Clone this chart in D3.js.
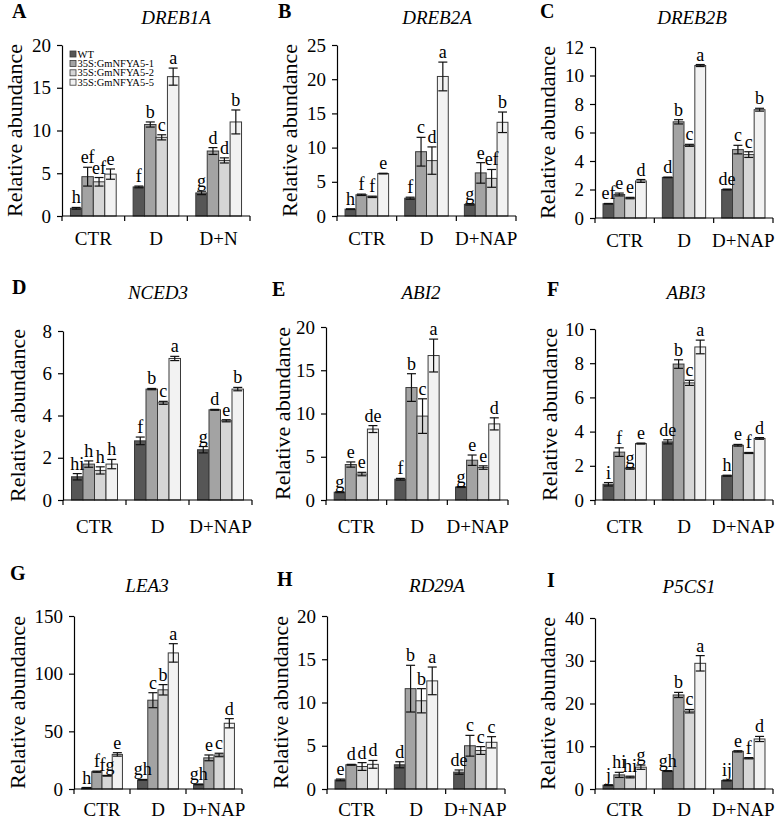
<!DOCTYPE html>
<meta charset="utf-8">
<style>
  body { margin: 0; background: #fff; }
  svg text { font-family: "Liberation Serif", "Times New Roman", serif; fill: #000; }
  .axis path, .axis line { fill: none; stroke: #000; stroke-width: 1.2px; }
  .axis text { font-size: 19px; }
  .xaxis path { display: none; }
  .bar { stroke: #3a3a3a; stroke-width: 1px; }
  .err line { stroke: #111; stroke-width: 1.2px; }
  .sig { font-size: 18px; text-anchor: middle; }
  .title { font-size: 19px; font-style: italic; text-anchor: middle; }
  .letter { font-size: 20px; font-weight: bold; }
  .ylab { font-size: 22px; text-anchor: middle; }
  .legend text { font-size: 10.5px; }
</style>
<body>
<div id="graph-container"></div>
<script src="https://d3js.org/d3.v7.min.js"></script>
<script>
  var genes = ["DREB1A", "DREB2A", "DREB2B", "NCED3", "ABI2", "ABI3", "LEA3", "RD29A", "P5CS1"];
  var panelLetters = ["A", "B", "C", "D", "E", "F", "G", "H", "I"];
  var groups = ["CTR", "D", "D+NAP"];
  var groupsA = ["CTR", "D", "D+N"];  // panel A label is cut in the figure
  var lines = ["WT", "35S:GmNFYA5-1", "35S:GmNFYA5-2", "35S:GmNFYA5-5"];
  var yMax = [20, 25, 12, 8, 20, 10, 150, 20, 40];
  var yStep = [5, 5, 2, 2, 5, 2, 50, 5, 10];

  // mean per [group][line]
  var meanValues = [
    [[0.9, 4.6, 4.0, 4.9], [3.4, 10.7, 9.2, 16.3], [2.7, 7.6, 6.5, 11.0]],
    [[1.0, 3.1, 2.8, 6.2], [2.6, 9.4, 8.1, 20.4], [1.7, 6.3, 5.5, 13.7]],
    [[1.0, 1.65, 1.4, 2.6], [2.85, 6.75, 5.1, 10.7], [2.0, 4.8, 4.45, 7.6]],
    [[1.1, 1.7, 1.4, 1.7], [2.8, 5.25, 4.6, 6.7], [2.38, 4.27, 3.75, 5.25]],
    [[0.9, 4.1, 3.0, 8.2], [2.4, 13.0, 9.7, 16.7], [1.5, 4.6, 3.75, 8.8]],
    [[0.92, 2.8, 1.85, 3.3], [3.4, 7.95, 6.85, 8.95], [1.42, 3.2, 2.75, 3.6]],
    [[1, 15, 11.5, 30], [8, 77, 86, 118], [4, 27, 29.5, 57]],
    [[1.05, 2.8, 2.6, 2.85], [2.8, 11.6, 10.2, 12.5], [1.95, 5.0, 4.45, 5.4]],
    [[0.9, 3.3, 2.8, 5.1], [4.2, 22.0, 18.2, 29.4], [2.0, 8.8, 7.2, 11.7]]
  ];
  var errValues = [
    [[0.1, 1.1, 0.5, 0.6], [0.1, 0.3, 0.3, 1.0], [0.2, 0.4, 0.3, 1.4]],
    [[0.05, 0.1, 0.1, 0.05], [0.15, 2.1, 2.0, 2.1], [0.1, 1.5, 1.3, 1.5]],
    [[0.02, 0.1, 0.05, 0.1], [0.02, 0.15, 0.07, 0.07], [0.03, 0.3, 0.2, 0.1]],
    [[0.15, 0.15, 0.17, 0.22], [0.18, 0.03, 0.07, 0.1], [0.15, 0.02, 0.05, 0.08]],
    [[0.05, 0.3, 0.2, 0.4], [0.1, 1.6, 2.0, 1.9], [0.05, 0.6, 0.2, 0.7]],
    [[0.1, 0.25, 0.05, 0.03], [0.12, 0.25, 0.15, 0.4], [0.03, 0.05, 0.03, 0.05]],
    [[0.3, 0.5, 0.3, 1.5], [0.3, 6.5, 4.5, 8], [0.3, 2.5, 1.5, 4]],
    [[0.1, 0.05, 0.45, 0.45], [0.35, 2.7, 1.4, 1.6], [0.25, 1.2, 0.45, 0.65]],
    [[0.1, 0.6, 0.2, 0.5], [0.1, 0.6, 0.4, 1.8], [0.1, 0.15, 0.15, 0.6]]
  ];
  var sigLetters = [
    [["h", "ef", "ef", "e"], ["f", "b", "c", "a"], ["g", "d", "d", "b"]],
    [["h", "f", "f", "e"], ["f", "c", "d", "a"], ["g", "e", "ef", "b"]],
    [["ef", "e", "e", "d"], ["d", "b", "c", "a"], ["de", "c", "c", "b"]],
    [["hi", "h", "h", "h"], ["f", "b", "c", "a"], ["g", "d", "e", "b"]],
    [["g", "e", "e", "de"], ["f", "b", "c", "a"], ["g", "e", "e", "d"]],
    [["i", "f", "g", "e"], ["de", "b", "c", "a"], ["h", "e", "f", "d"]],
    [["h", "f", "fg", "e"], ["gh", "c", "b", "a"], ["gh", "e", "c", "d"]],
    [["e", "d", "d", "d"], ["d", "b", "b", "a"], ["de", "c", "c", "c"]],
    [["j", "hi", "hi", "g"], ["gh", "b", "c", "a"], ["ij", "e", "f", "d"]]
  ];

  var colors = ["#565656", "#a3a3a3", "#d6d6d6", "#f2f2f2"];

  // axisX, axisEnd, yTop, yZero, titleX, titleY, letterX, letterY, catBaseline offset, ylabel x
  var layout = [
    [62, 250, 45, 216, 176, 24, 12, 18, 29, 22],
    [337, 516, 45, 216, 437, 24, 278, 18, 29, 297],
    [595, 773, 47, 218, 692, 24, 540, 18, 29, 555],
    [63, 252, 331, 500, 158, 299, 12, 294, 33, 25],
    [326, 508, 327, 500, 421, 299, 272, 296, 33, 290],
    [595, 773, 329, 500, 686, 299, 547, 296, 33, 557],
    [74, 242, 616, 789, 147, 592, 10, 580, 27, 25],
    [327, 505, 616, 789, 437, 592, 277, 586, 27, 288],
    [595, 773, 618, 789, 689, 593, 547, 587, 27, 555]
  ];

  var svg = d3.select("#graph-container").append("svg")
      .attr("width", 778)
      .attr("height", 820);

  genes.forEach(function(gene, k) {
    var L = layout[k];
    var cats = k == 0 ? groupsA : groups;
    var x0 = d3.scaleBand().domain(d3.range(3)).range([L[0], L[1]]).padding(0);
    var x1 = d3.scaleBand().domain(d3.range(4)).range([0, x0.bandwidth()])
        .paddingInner(0).paddingOuter(0.74);
    var y = d3.scaleLinear().domain([0, yMax[k]]).range([L[3], L[2]]);

    var g = svg.append("g").attr("class", "panel");

    // bars
    var grp = g.selectAll(".grp")
        .data(meanValues[k])
        .enter().append("g")
        .attr("class", "grp")
        .attr("transform", function(d, i) { return "translate(" + x0(i) + ",0)"; });

    grp.selectAll("rect")
        .data(function(d) { return d; })
        .enter().append("rect")
        .attr("class", "bar")
        .attr("x", function(d, j) { return x1(j); })
        .attr("width", x1.bandwidth())
        .attr("y", function(d) { return y(d); })
        .attr("height", function(d) { return y(0) - y(d); })
        .style("fill", function(d, j) { return colors[j]; });

    // error bars + significance letters
    var cap = 4.5;
    grp.each(function(d, i) {
      var eb = d3.select(this).selectAll(".err")
          .data(d)
          .enter().append("g")
          .attr("class", "err")
          .attr("transform", function(v, j) { return "translate(" + (x1(j) + x1.bandwidth() / 2) + ",0)"; });
      eb.append("line")
          .attr("y1", function(v, j) { return y(v - errValues[k][i][j]); })
          .attr("y2", function(v, j) { return y(v + errValues[k][i][j]); });
      eb.append("line").attr("x1", -cap).attr("x2", cap)
          .attr("y1", function(v, j) { return y(v + errValues[k][i][j]); })
          .attr("y2", function(v, j) { return y(v + errValues[k][i][j]); });
      eb.append("line").attr("x1", -cap).attr("x2", cap)
          .attr("y1", function(v, j) { return y(v - errValues[k][i][j]); })
          .attr("y2", function(v, j) { return y(v - errValues[k][i][j]); });
      eb.append("text")
          .attr("class", "sig")
          .attr("y", function(v, j) { return y(v + errValues[k][i][j]) - 4; })
          .text(function(v, j) { return sigLetters[k][i][j]; });
    });

    // y axis
    g.append("g")
        .attr("class", "axis")
        .attr("transform", "translate(" + L[0] + ",0)")
        .call(d3.axisLeft(y)
            .tickValues(d3.range(0, yMax[k] + 1e-9, yStep[k]))
            .tickSize(5).tickSizeOuter(0).tickPadding(6));

    // x axis: line and ticks at group boundaries
    g.append("g")
        .attr("class", "axis")
        .attr("transform", "translate(0," + L[3] + ")")
        .call(function(s) {
          s.append("line").attr("x1", L[0]).attr("x2", L[1]);
          s.selectAll(".btick")
              .data([0, 1, 2, 3])
              .enter().append("line")
              .attr("class", "btick")
              .attr("x1", function(b) { return b < 3 ? x0(b) : L[1]; })
              .attr("x2", function(b) { return b < 3 ? x0(b) : L[1]; })
              .attr("y1", 0).attr("y2", 5);
        });

    // category labels
    g.append("g")
        .attr("class", "axis xaxis")
        .attr("transform", "translate(0," + L[3] + ")")
        .call(d3.axisBottom(x0).tickSize(0).tickPadding(L[8] - 13.5)
            .tickFormat(function(i) { return cats[i]; }))
        .selectAll(".tick line").remove();

    // y label
    g.append("text")
        .attr("class", "ylab")
        .attr("transform", "translate(" + L[9] + "," + ((L[2] + L[3]) / 2) + ") rotate(-90)")
        .text("Relative abundance");

    // gene title and panel letter
    g.append("text").attr("class", "title").attr("x", L[4]).attr("y", L[5]).text(gene);
    g.append("text").attr("class", "letter").attr("x", L[6]).attr("y", L[7]).text(panelLetters[k]);

    // legend only in panel A
    if (k == 0) {
      var leg = g.append("g").attr("class", "legend")
          .selectAll("g")
          .data(lines)
          .enter().append("g")
          .attr("transform", function(d, j) { return "translate(70," + (54 + j * 9.4) + ")"; });
      leg.append("rect")
          .attr("x", 0).attr("y", -3).attr("width", 6).attr("height", 6)
          .style("fill", function(d, j) { return colors[j]; })
          .style("stroke", "#3a3a3a").style("stroke-width", 0.8);
      leg.append("text")
          .attr("x", 7.5).attr("y", 3.5)
          .text(function(d) { return d; });
    }
  });
</script>
</body>
